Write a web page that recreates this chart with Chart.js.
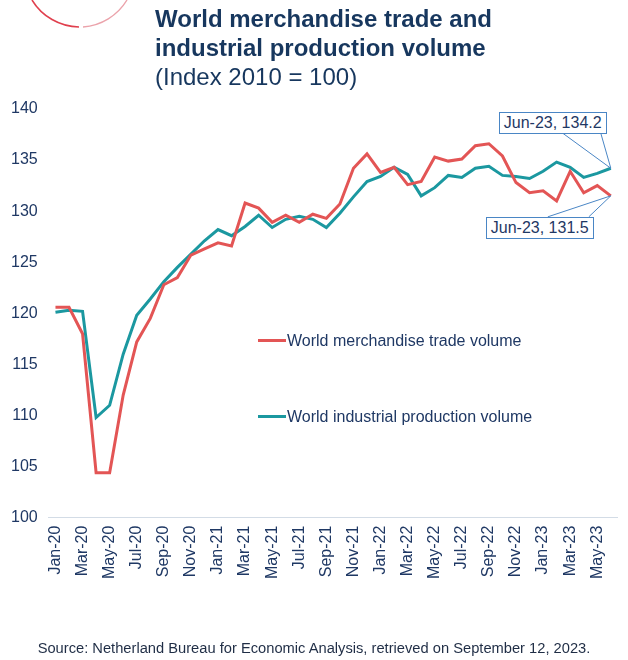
<!DOCTYPE html>
<html>
<head>
<meta charset="utf-8">
<script src="https://cdn.jsdelivr.net/npm/chart.js@4"></script>
<style>
html,body{margin:0;padding:0;background:#fff;}
#wrap{position:relative;width:628px;height:660px;overflow:hidden;font-family:"Liberation Sans",Arial,sans-serif;color:#1f3864;}
#c{position:absolute;left:0;top:0;}
#deco{position:absolute;left:0;top:0;}
.title{position:absolute;left:155px;top:4px;font-size:24px;line-height:29px;color:#17375e;white-space:nowrap;}
.title b{font-weight:bold;}
.source{position:absolute;left:0;width:628px;top:640px;text-align:center;font-size:14.7px;line-height:16px;color:#1f2d45;white-space:nowrap;}
.leg{position:absolute;font-size:16px;line-height:18px;color:#1f3864;white-space:nowrap;}
.leg span.sw{display:inline-block;width:28px;height:3px;vertical-align:middle;margin-right:1px;position:relative;top:-1px;}
.box{position:absolute;border:1px solid #4a86c5;background:#fff;font-size:16px;line-height:20px;padding:0 4px;color:#1f3864;white-space:nowrap;}
</style>
</head>
<body>
<div id="wrap">
  <canvas id="c" width="638" height="660"></canvas>
  <svg id="deco" width="140" height="40" viewBox="0 0 140 40">
    <path d="M 32 0 A 56 56 0 0 0 79 27" fill="none" stroke="#e0404e" stroke-width="1.6"/>
    <path d="M 83 27 A 56 56 0 0 0 127 0" fill="none" stroke="#eba3ab" stroke-width="1.4"/>
  </svg>
  <div class="title"><b>World merchandise trade and<br>industrial production volume</b><br>(Index 2010 = 100)</div>
  <div class="leg" id="leg1" style="left:258px;top:332px;"><span class="sw" style="background:#e35555"></span>World merchandise trade volume</div>
  <div class="leg" id="leg2" style="left:258px;top:408px;"><span class="sw" style="background:#1b98a0"></span>World industrial production volume</div>
  <div class="box" id="boxProd">Jun-23, 134.2</div>
  <div class="box" id="boxTrade">Jun-23, 131.5</div>
  <div class="source">Source: Netherland Bureau for Economic Analysis, retrieved on September 12, 2023.</div>
</div>
<script>
const months = [
  "Jan-20","Feb-20","Mar-20","Apr-20","May-20","Jun-20","Jul-20","Aug-20","Sep-20","Oct-20","Nov-20","Dec-20",
  "Jan-21","Feb-21","Mar-21","Apr-21","May-21","Jun-21","Jul-21","Aug-21","Sep-21","Oct-21","Nov-21","Dec-21",
  "Jan-22","Feb-22","Mar-22","Apr-22","May-22","Jun-22","Jul-22","Aug-22","Sep-22","Oct-22","Nov-22","Dec-22",
  "Jan-23","Feb-23","Mar-23","Apr-23","May-23","Jun-23"
];
const tradeVolume = [
  120.6,120.6,118.0,104.4,104.4,112.0,117.2,119.5,122.8,123.5,125.7,126.3,
  126.9,126.6,130.8,130.3,128.9,129.6,128.9,129.7,129.3,130.7,134.2,135.6,
  133.8,134.3,132.6,132.9,135.3,134.9,135.1,136.4,136.6,135.4,132.8,131.8,
  132.0,131.0,133.9,131.8,132.5,131.5
];
const productionVolume = [
  120.1,120.3,120.2,109.8,111.0,116.0,119.8,121.4,123.1,124.5,125.8,127.1,
  128.2,127.6,128.5,129.6,128.4,129.2,129.5,129.2,128.4,129.8,131.4,132.9,
  133.4,134.3,133.6,131.5,132.3,133.5,133.3,134.2,134.4,133.5,133.4,133.2,
  133.9,134.8,134.3,133.3,133.7,134.2
];
const yTicks = [100,105,110,115,120,125,130,135,140];

const tickFont = {family:'"Liberation Sans", Arial, sans-serif', size:16};
const textColor = '#1f3864';

const calloutPlugin = {
  id:'callout',
  afterDraw(chart){
    const ctx = chart.ctx;
    const last = months.length - 1;
    const pt = chart.getDatasetMeta(0).data[last];
    const pp = chart.getDatasetMeta(1).data[last];
    ctx.save();
    ctx.strokeStyle = '#4a86c5';
    ctx.lineWidth = 1;
    ctx.beginPath();
    ctx.moveTo(pp.x - 48, pp.y - 35); ctx.lineTo(pp.x, pp.y);
    ctx.moveTo(pp.x - 10, pp.y - 35); ctx.lineTo(pp.x, pp.y);
    ctx.moveTo(pt.x - 63, pt.y + 21); ctx.lineTo(pt.x, pt.y);
    ctx.moveTo(pt.x - 22, pt.y + 21); ctx.lineTo(pt.x, pt.y);
    ctx.stroke();
    ctx.restore();
    const b1 = document.getElementById('boxProd');
    b1.style.left = (pp.x - 112) + 'px';
    b1.style.top = (pp.y - 56) + 'px';
    const b2 = document.getElementById('boxTrade');
    b2.style.left = (pt.x - 125) + 'px';
    b2.style.top = (pt.y + 21) + 'px';
  }
};

new Chart(document.getElementById('c'), {
  type:'line',
  data:{
    labels: months,
    datasets:[
      {label:'World merchandise trade volume', data: tradeVolume, borderColor:'#e35555', backgroundColor:'#e35555', borderWidth:3, pointRadius:0, tension:0},
      {label:'World industrial production volume', data: productionVolume, borderColor:'#1b98a0', backgroundColor:'#1b98a0', borderWidth:3, pointRadius:0, tension:0}
    ]
  },
  options:{
    responsive:false,
    animation:false,
    layout:{padding:{left:0, right:0, top:109, bottom:73}},
    plugins:{legend:{display:false}, tooltip:{enabled:false}, title:{display:false}},
    scales:{
      x:{
        offset:true,
        grid:{display:false, drawTicks:false},
        border:{display:true, color:'#d3dce6', width:1},
        ticks:{
          autoSkip:false, maxRotation:90, minRotation:90, padding:8,
          color:textColor, font:tickFont,
          callback:function(v, i){ return i % 2 === 0 ? months[i] : ''; }
        }
      },
      y:{
        min:100, max:140,
        afterBuildTicks:(axis)=>{ axis.ticks = yTicks.map(v=>({value:v})); },
        grid:{display:false, drawTicks:false},
        border:{display:false},
        ticks:{padding:11, color:textColor, font:tickFont}
      }
    }
  },
  plugins:[calloutPlugin]
});
</script>
</body>
</html>
